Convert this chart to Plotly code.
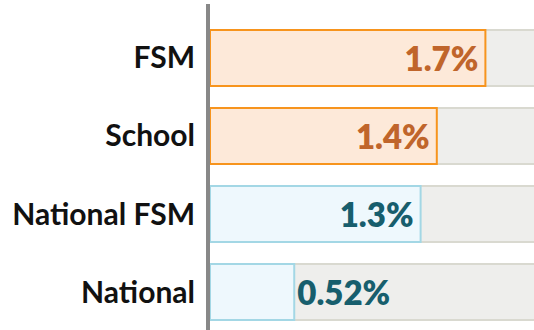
import plotly.graph_objects as go

# Share of pupils, by group
categories = ["FSM", "School", "National FSM", "National"]
values = [1.7, 1.4, 1.3, 0.52]
value_labels = ["1.7%", "1.4%", "1.3%", "0.52%"]
groups = ["school", "school", "national", "national"]

axis_max = 2.0
track_values = [axis_max * 1.2] * len(categories)

palette = {
    "school": {"fill": "#fde9d9", "line": "#f7941d", "text": "#c0652b"},
    "national": {"fill": "#eef8fd", "line": "#a3d7e5", "text": "#175e6d"},
}

fig = go.Figure()

# light grey track behind every bar
fig.add_trace(go.Bar(
    y=categories, x=track_values, orientation="h",
    marker=dict(color="#eeeeec", line=dict(color="#d9d9d0", width=2)),
    hoverinfo="skip", showlegend=False,
))

fig.add_trace(go.Bar(
    y=categories, x=values, orientation="h",
    text=value_labels,
    texttemplate="%{text}\u2009",
    textposition=["inside", "inside", "inside", "outside"],
    insidetextanchor="end",
    constraintext="none",
    textfont=dict(family="Lato", size=33, weight=800,
                  color=[palette[g]["text"] for g in groups]),
    marker=dict(color=[palette[g]["fill"] for g in groups],
                line=dict(color=[palette[g]["line"] for g in groups], width=2)),
    showlegend=False,
))

fig.update_layout(
    width=534, height=330,
    margin=dict(l=210, r=0, t=4, b=0),
    barmode="overlay", bargap=0.28,
    plot_bgcolor="white", paper_bgcolor="white",
    xaxis=dict(range=[0, axis_max], visible=False, fixedrange=True),
    yaxis=dict(
        categoryorder="array", categoryarray=categories,
        range=[3.487, -0.692],
        showline=True, linecolor="#888888", linewidth=4,
        showgrid=False, zeroline=False, ticks="",
        ticklabelstandoff=5,
        tickfont=dict(family="Lato", size=30, weight=700, color="#111111"),
    ),
)

fig.write_html("out.html")
